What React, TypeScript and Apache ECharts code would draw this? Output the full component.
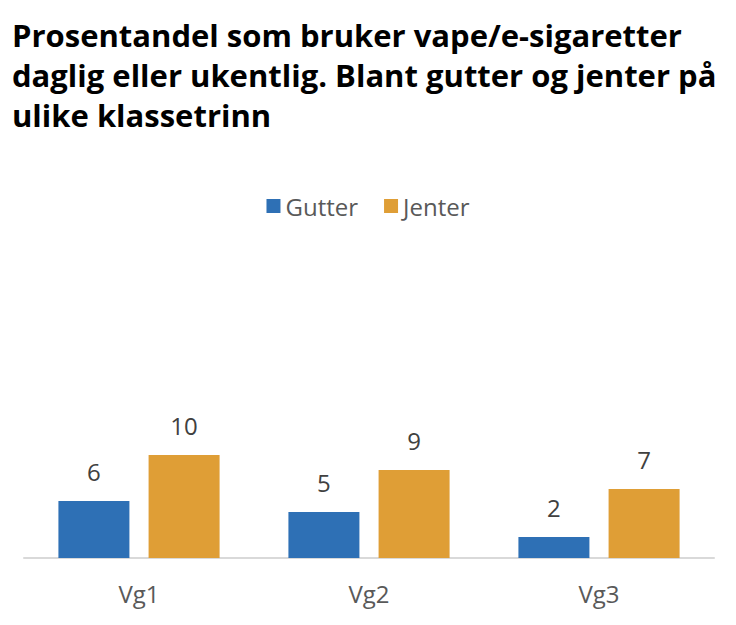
import React, { useEffect, useRef } from "react";
import * as echarts from "echarts";

const categories = ["Vg1", "Vg2", "Vg3"];
const gutter = [5.7, 4.6, 2.1];
const jenter = [10.3, 8.8, 6.9];
const titleText =
  "Prosentandel som bruker vape/e-sigaretter\ndaglig eller ukentlig. Blant gutter og jenter på\nulike klassetrinn";

const FONT = "'Open Sans', Arial, sans-serif";

export default function App() {
  const ref = useRef<HTMLDivElement>(null);
  useEffect(() => {
    if (!ref.current) return;
    const chart = echarts.init(ref.current, undefined, { renderer: "svg" });
    const labelCfg = {
      show: true,
      position: "top",
      distance: 18,
      color: "#404040",
      fontSize: 24,
      fontFamily: FONT,
      formatter: (p: any) => String(Math.round(p.value)),
    };
    chart.setOption({
      animation: false,
      title: {
        text: titleText,
        left: -1,
        top: 2,
        textStyle: {
          fontSize: 31,
          fontWeight: "bold",
          color: "#000000",
          lineHeight: 40,
          fontFamily: FONT,
        },
      },
      legend: {
        top: 181,
        left: "center",
        icon: "rect",
        itemWidth: 14,
        itemHeight: 14,
        itemGap: 26,
        textStyle: { color: "#595959", fontSize: 24, fontFamily: FONT },
        data: ["Gutter", "Jenter"],
      },
      grid: { left: 16, right: 14, top: 250, bottom: 59 },
      xAxis: {
        type: "category",
        data: categories,
        axisLine: { lineStyle: { color: "#d9d9d9", width: 2 } },
        axisTick: { show: false },
        axisLabel: { color: "#595959", fontSize: 24, margin: 23, fontFamily: FONT },
      },
      yAxis: { type: "value", min: 0, max: 30, show: false, splitLine: { show: false } },
      series: [
        {
          name: "Gutter",
          type: "bar",
          data: gutter,
          barWidth: 71,
          barGap: "27%",
          itemStyle: { color: "#2e70b5" },
          label: labelCfg,
        },
        {
          name: "Jenter",
          type: "bar",
          data: jenter,
          barWidth: 71,
          itemStyle: { color: "#df9e36" },
          label: labelCfg,
        },
      ],
    });
    return () => chart.dispose();
  }, []);
  return <div ref={ref} style={{ width: 720, height: 609 }} />;
}
